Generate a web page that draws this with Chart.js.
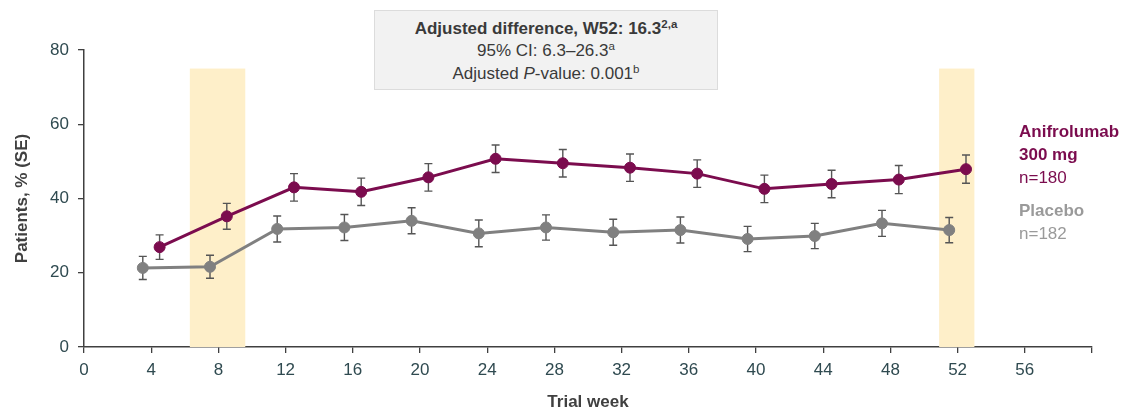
<!DOCTYPE html>
<html>
<head>
<meta charset="utf-8">
<script src="https://cdn.jsdelivr.net/npm/chart.js@4"></script>
<style>
  body { margin: 0; background: #fff; font-family: "Liberation Sans", Arial, sans-serif; }
  #wrap { position: relative; width: 1124px; height: 410px; overflow: hidden; }
  #box {
    position: absolute; left: 374px; top: 10px; width: 344px; height: 80px;
    background: #f2f2f2; border: 1.5px solid #dcdcdc; box-sizing: border-box;
    text-align: center; color: #3a3a3a; font-size: 17px; line-height: 22.5px;
    padding-top: 6.5px;
  }
  #box sup { font-size: 0.68em; line-height: 0; vertical-align: 0.5em; }
  .leg { position: absolute; left: 1019px; font-size: 17px; line-height: 23px; }
  .b { font-weight: bold; }
</style>
</head>
<body>
<div id="wrap">
  <canvas id="chart" width="1124" height="410"></canvas>
  <div id="box">
    <div class="b">Adjusted difference, W52: 16.3<sup>2,a</sup></div>
    <div>95% CI: 6.3–26.3<sup>a</sup></div>
    <div>Adjusted <i>P</i>-value: 0.001<sup>b</sup></div>
  </div>
  <div class="leg" style="top:120px;color:#7b0c4e">
    <div class="b">Anifrolumab</div>
    <div class="b">300 mg</div>
    <div>n=180</div>
  </div>
  <div class="leg" style="top:199px;color:#9a9a9a">
    <div class="b">Placebo</div>
    <div>n=182</div>
  </div>
</div>
<script>
// данные по неделям
const weeks = [4, 8, 12, 16, 20, 24, 28, 32, 36, 40, 44, 48, 52];
const anifrolumab = [26.9, 35.2, 43.0, 41.8, 45.7, 50.7, 49.5, 48.3, 46.7, 42.6, 43.9, 45.1, 47.9];
const anifrolumabSE = [3.3, 3.5, 3.7, 3.7, 3.7, 3.7, 3.7, 3.7, 3.7, 3.7, 3.7, 3.8, 3.8];
const placebo = [21.3, 21.6, 31.8, 32.2, 34.0, 30.6, 32.2, 30.9, 31.5, 29.1, 29.9, 33.3, 31.5];
const placeboSE = [3.1, 3.1, 3.5, 3.5, 3.5, 3.6, 3.4, 3.5, 3.5, 3.4, 3.4, 3.5, 3.4];
const yTicks = [0, 20, 40, 60, 80];
const xTickMax = 56;
// подсвеченные недели
const bandStart = [6.3, 50.9];
const bandEnd = [9.6, 53.0];
const bandTop = 75;

const shift = 0.5; // сдвиг точек, чтобы не перекрывались

function toPoints(vals, se, dx) {
  return vals.map((v, i) => ({ x: weeks[i] + dx, y: v, se: se[i] }));
}

const bandsPlugin = {
  id: 'bands',
  beforeDatasetsDraw(chart) {
    const { ctx, scales: { x, y } } = chart;
    ctx.save();
    ctx.fillStyle = '#feefc9';
    for (let i = 0; i < bandStart.length; i++) {
      const x0 = x.getPixelForValue(bandStart[i]);
      const x1 = x.getPixelForValue(bandEnd[i]);
      const y0 = y.getPixelForValue(bandTop);
      const y1 = y.getPixelForValue(0);
      ctx.fillRect(x0, y0, x1 - x0, y1 - y0);
    }
    // error bars
    ctx.strokeStyle = '#555';
    ctx.lineWidth = 1.4;
    chart.data.datasets.forEach(ds => {
      ds.data.forEach(p => {
        const px = x.getPixelForValue(p.x);
        const top = y.getPixelForValue(p.y + p.se);
        const bot = y.getPixelForValue(p.y - p.se);
        ctx.beginPath();
        ctx.moveTo(px, top); ctx.lineTo(px, bot);
        ctx.moveTo(px - 4, top); ctx.lineTo(px + 4, top);
        ctx.moveTo(px - 4, bot); ctx.lineTo(px + 4, bot);
        ctx.stroke();
      });
    });
    ctx.restore();
  }
};

const tickColor = '#2f4a50';
const axisColor = '#404040';
const font = '"Liberation Sans", Arial, sans-serif';

const ctx = document.getElementById('chart').getContext('2d');
const chart = new Chart(ctx, {
  type: 'line',
  data: {
    datasets: [{
      label: 'Anifrolumab 300 mg',
      data: toPoints(anifrolumab, anifrolumabSE, shift),
      borderColor: '#7b0c4e',
      backgroundColor: '#7b0c4e',
      borderWidth: 3,
      pointRadius: 5.5,
      pointBorderWidth: 1,
      pointHoverRadius: 5.5,
      tension: 0
    }, {
      label: 'Placebo',
      data: toPoints(placebo, placeboSE, -shift),
      borderColor: '#808080',
      backgroundColor: '#808080',
      borderWidth: 3,
      pointRadius: 5.5,
      pointBorderWidth: 1,
      pointHoverRadius: 5.5,
      tension: 0
    }]
  },
  options: {
    responsive: false,
    animation: false,
    layout: { padding: { left: 0, right: 32, top: 50, bottom: 0 } },
    plugins: { legend: { display: false }, tooltip: { enabled: false } },
    scales: {
      x: {
        type: 'linear',
        min: 0, max: 60,
        afterFit(s) { s.height = 63; },
        ticks: {
          stepSize: 4,
          padding: 7,
          color: tickColor,
          font: { family: font, size: 17 },
          callback: v => (v <= xTickMax ? v : '')
        },
        grid: { drawOnChartArea: false, drawTicks: true, tickLength: 6, color: axisColor, lineWidth: 1.3 },
        border: { color: axisColor, width: 1.5 },
        title: {
          display: true, text: 'Trial week', color: '#404040',
          font: { family: font, size: 17, weight: 'bold' },
          padding: { top: 0, bottom: -3 }
        }
      },
      y: {
        min: 0, max: 80,
        afterFit(s) { s.width = 84; },
        afterBuildTicks(s) { s.ticks = yTicks.map(v => ({ value: v })); },
        ticks: {
          padding: 9,
          color: tickColor,
          font: { family: font, size: 17 }
        },
        grid: { drawOnChartArea: false, drawTicks: true, tickLength: 6, color: axisColor, lineWidth: 1.3 },
        border: { color: axisColor, width: 1.5 },
        title: {
          display: true, text: 'Patients, % (SE)', color: '#404040',
          font: { family: font, size: 17, weight: 'bold' },
          padding: { top: 12, bottom: 0 }
        }
      }
    }
  },
  plugins: [bandsPlugin]
});
</script>
</body>
</html>
